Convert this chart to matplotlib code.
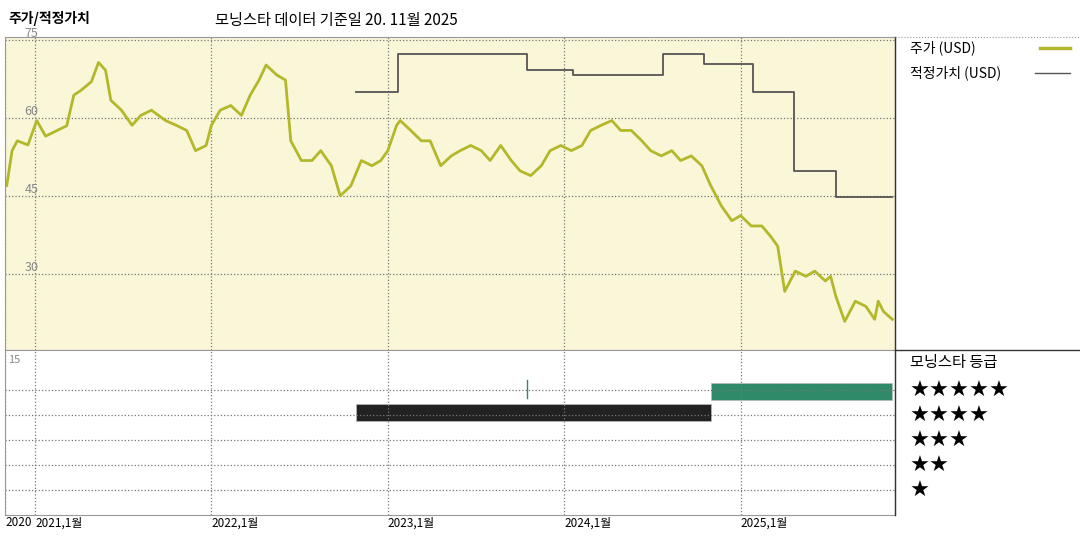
import numpy as np
import pandas as pd
import matplotlib
matplotlib.use("Agg")
import matplotlib.pyplot as plt
from matplotlib.lines import Line2D

plt.rcParams['font.family'] = ['Noto Sans CJK KR', 'DejaVu Sans']

# price (USD), as (decimal year, value)
price_t = [2020.84, 2020.87, 2020.90, 2020.96, 2021.01, 2021.06, 2021.12, 2021.18, 2021.22,
           2021.26, 2021.32, 2021.36, 2021.40, 2021.43, 2021.49, 2021.55, 2021.60, 2021.66,
           2021.74, 2021.80, 2021.86, 2021.91, 2021.97, 2022.00, 2022.05, 2022.11, 2022.17,
           2022.22, 2022.27, 2022.31, 2022.37, 2022.42, 2022.45, 2022.51, 2022.57, 2022.62,
           2022.68, 2022.73, 2022.79, 2022.85, 2022.91, 2022.96, 2023.00, 2023.05, 2023.07,
           2023.13, 2023.19, 2023.24, 2023.30, 2023.36, 2023.41, 2023.47, 2023.53, 2023.58,
           2023.64, 2023.70, 2023.75, 2023.81, 2023.87, 2023.92, 2023.98, 2024.04, 2024.10,
           2024.15, 2024.21, 2024.27, 2024.32, 2024.38, 2024.44, 2024.49, 2024.55, 2024.61,
           2024.66, 2024.72, 2024.78, 2024.83, 2024.89, 2024.95, 2025.00, 2025.06, 2025.12,
           2025.17, 2025.21, 2025.25, 2025.31, 2025.37, 2025.42, 2025.48, 2025.51, 2025.54,
           2025.59, 2025.65, 2025.71, 2025.76, 2025.78, 2025.81, 2025.86]
price_v = [47.0, 53.7, 55.6, 54.8, 59.5, 56.5, 57.5, 58.5, 64.4, 65.3, 67.0, 70.7, 69.2, 63.4,
           61.5, 58.6, 60.5, 61.5, 59.5, 58.6, 57.6, 53.7, 54.7, 58.6, 61.5, 62.4, 60.5, 64.4,
           67.3, 70.2, 68.3, 67.3, 55.6, 51.8, 51.8, 53.7, 50.8, 45.0, 46.9, 51.8, 50.8, 51.8,
           53.7, 58.6, 59.5, 57.6, 55.6, 55.6, 50.8, 52.7, 53.7, 54.7, 53.7, 51.8, 54.7, 51.8,
           49.8, 48.9, 50.8, 53.7, 54.7, 53.7, 54.7, 57.6, 58.6, 59.5, 57.6, 57.6, 55.6, 53.7,
           52.7, 53.7, 51.8, 52.7, 50.8, 47.0, 43.1, 40.2, 41.2, 39.2, 39.2, 37.2, 35.3, 26.6,
           30.5, 29.5, 30.5, 28.6, 29.5, 25.6, 20.8, 24.7, 23.7, 21.2, 24.7, 22.7, 21.2]

# fair value (USD), step changes: (decimal year, value)
fair_t = [2022.82, 2023.06, 2023.79, 2024.05, 2024.56, 2024.79, 2025.07, 2025.30, 2025.54, 2025.86]
fair_v = [65.1, 72.3, 69.2, 68.2, 72.3, 70.4, 65.1, 49.8, 44.8, 44.8]

# Morningstar rating periods: (start, end, stars)
rate_start = [2022.82, 2024.83]
rate_end = [2024.83, 2025.86]
rate_stars = [4, 5]
rate_tick = 2023.79  # single 5-star day

def to_date(years):
    return [pd.Timestamp('2021-01-01') + pd.Timedelta(days=(y - 2021) * 365.25) for y in years]

fig = plt.figure(figsize=(10.8, 5.4), dpi=100)
ax = fig.add_axes([5 / 1080, 1 - 350 / 540, 890 / 1080, 313 / 540])
ax2 = fig.add_axes([5 / 1080, 1 - 515 / 540, 890 / 1080, 165 / 540], sharex=ax)

xmin, xmax = to_date([2020.83])[0], to_date([2025.875])[0]
ax.set_facecolor('#faf6d8')
ax.plot(to_date(price_t), price_v, color='#b3b82b', lw=2)
ax.step(to_date(fair_t), fair_v, where='post', color='#555555', lw=1.3)
ax.set_xlim(xmin, xmax)
ax.set_ylim(15.3, 75.6)
ax.set_yticks([30, 45, 60, 75])
ax.tick_params(axis='y', direction='in', pad=-14, labelsize=9, colors='#888888', length=0)
for lab in ax.get_yticklabels():
    lab.set_horizontalalignment('left')
    lab.set_verticalalignment('bottom')

years = to_date([2021, 2022, 2023, 2024, 2025])
for a in (ax, ax2):
    a.grid(True, color='#777777', ls=':', lw=0.9)
    a.set_xticks(years)
    for s in a.spines.values():
        s.set_color('#999999')
        s.set_linewidth(0.8)
ax.tick_params(axis='x', labelbottom=False, length=0)

ax2.set_ylim(0, 6.6)
ax2.set_yticks([1, 2, 3, 4, 5])
ax2.set_yticklabels([])
ax2.tick_params(axis='y', length=0)
colors = {4: '#222222', 5: '#2e8a68'}
for s, e, r in zip(rate_start, rate_end, rate_stars):
    d0, d1 = to_date([s, e])
    ax2.barh(r + 0.1 if r == 4 else r - 0.05, d1 - d0, left=d0, height=0.7, color=colors[r],
             edgecolor='#bbbbbb', lw=0.5)
ax2.plot(to_date([rate_tick, rate_tick]), [4.7, 5.4], color='#2e8a68', lw=1)
ax2.text(0.003, 0.97, '15', transform=ax2.transAxes, fontsize=8, color='#888888', va='top')
ax2.set_xticks([xmin] + years)
ax2.set_xticklabels(['2020', '2021,1월', '2022,1월', '2023,1월', '2024,1월', '2025,1월'],
                    fontsize=8.5)
ax2.tick_params(axis='x', length=0, pad=1)
for lab in ax2.get_xticklabels():
    lab.set_horizontalalignment('left')

# frame lines on the right panel
fig.add_artist(Line2D([895 / 1080, 895 / 1080], [1 - 37 / 540, 1 - 515 / 540], color='#333333', lw=1))
fig.add_artist(Line2D([895 / 1080, 1], [1 - 350 / 540] * 2, color='#333333', lw=1))
fig.add_artist(Line2D([895 / 1080, 1], [1 - 37 / 540] * 2, color='#999999', lw=0.8, ls=':'))

fig.text(8 / 1080, 1 - 18 / 540, '주가/적정가치', fontsize=10, fontweight='bold', va='center')
fig.text(215 / 1080, 1 - 20 / 540, '모닝스타 데이터 기준일 20. 11월 2025', fontsize=11, va='center')

fig.text(910 / 1080, 1 - 48 / 540, '주가 (USD)', fontsize=10, va='center')
fig.add_artist(Line2D([1040 / 1080, 1070 / 1080], [1 - 48 / 540] * 2, color='#b3b82b', lw=2.5))
fig.text(910 / 1080, 1 - 73 / 540, '적정가치 (USD)', fontsize=10, va='center')
fig.add_artist(Line2D([1035 / 1080, 1070 / 1080], [1 - 73 / 540] * 2, color='#555555', lw=1))

fig.text(910 / 1080, 1 - 362 / 540, '모닝스타 등급', fontsize=11, va='center')
for i, n in enumerate([5, 4, 3, 2, 1]):
    fig.text(910 / 1080, 1 - (391 + 25 * i) / 540, '★' * n, fontsize=16, va='center',
             family=['DejaVu Sans'])

fig.savefig('out.png', dpi=100)
